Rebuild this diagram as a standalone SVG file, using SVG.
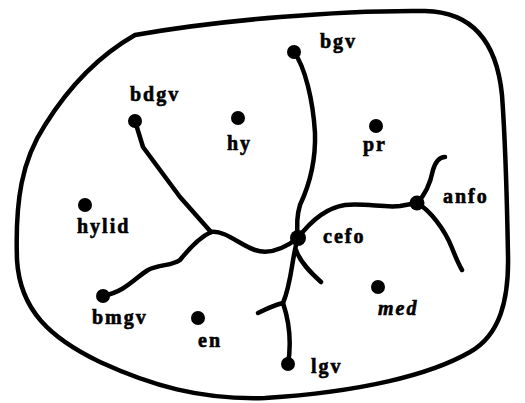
<svg xmlns="http://www.w3.org/2000/svg" width="525" height="403" viewBox="0 0 525 403">
<style>
.line{fill:none;stroke:#000;stroke-width:4.5;stroke-linecap:round;stroke-linejoin:round}
.dot{fill:#000}
.lbl{font-family:"Liberation Serif","Times New Roman",serif;font-weight:bold;font-size:20px;letter-spacing:2px;fill:#000;stroke:#000;stroke-width:0.6}
.it{font-style:italic}
</style>
<rect width="525" height="403" fill="#fff"/>
<g id="boundary">
<path class="line" d="M135,35 C220,20 340,10 425,11 C475,12 497,45 502,95 C506,150 507,200 508,255 C509,300 500,335 470,352 C430,375 360,392 265,398 C200,400 150,385 100,362 C50,338 20,310 17,260 C15,200 22,160 45,125 C70,85 100,55 135,35 Z"/>
</g>
<g id="connectors">
<path class="line" d="M294,52 C305,67 313,100 315,133 C316,165 308,188 300,205 C296,218 297,230 298,238"/>
<path class="line" d="M135,121 L143,147 L180,197 L211,232"/>
<path class="line" d="M211,232 C198,238 188,250 180,260 C172,266 160,264 148,270 C135,278 125,292 103,296"/>
<path class="line" d="M211,232 C225,230 240,245 255,250 C270,255 285,248 298,238"/>
<path class="line" d="M298,238 C310,222 325,208 345,205 C365,203 385,208 400,206 L417,203"/>
<path class="line" d="M417,203 C425,195 430,185 433,170 C436,160 440,157 445,157"/>
<path class="line" d="M417,203 C430,210 445,230 452,248 C456,258 459,265 462,270"/>
<path class="line" d="M298,238 C292,255 292,282 283,303 C288,318 292,340 288,364"/>
<path class="line" d="M283,303 C275,305 266,309 258,313"/>
<path class="line" d="M296,250 C300,262 310,272 321,282"/>
</g>
<g id="bgv"><circle class="dot" cx="294" cy="52" r="7"/><text class="lbl" x="320" y="48">bgv</text></g>
<g id="bdgv"><circle class="dot" cx="135" cy="121" r="7"/><text class="lbl" x="130" y="101">bdgv</text></g>
<g id="hy"><circle class="dot" cx="238" cy="118" r="7"/><text class="lbl" x="227" y="150">hy</text></g>
<g id="pr"><circle class="dot" cx="376" cy="126" r="7"/><text class="lbl" x="363" y="151">pr</text></g>
<g id="anfo"><circle class="dot" cx="417" cy="203" r="7.5"/><text class="lbl" x="443" y="203">anfo</text></g>
<g id="hylid"><circle class="dot" cx="85" cy="205" r="7"/><text class="lbl" x="77" y="233">hylid</text></g>
<g id="cefo"><circle class="dot" cx="298" cy="238" r="8"/><text class="lbl" x="323" y="243">cefo</text></g>
<g id="bmgv"><circle class="dot" cx="103" cy="296" r="7"/><text class="lbl" x="92" y="324">bmgv</text></g>
<g id="en"><circle class="dot" cx="198" cy="318" r="7"/><text class="lbl" x="198" y="347">en</text></g>
<g id="med"><circle class="dot" cx="378" cy="287" r="7"/><text class="lbl it" x="378" y="315">med</text></g>
<g id="lgv"><circle class="dot" cx="288" cy="364" r="7"/><text class="lbl" x="311" y="373">lgv</text></g>
</svg>
